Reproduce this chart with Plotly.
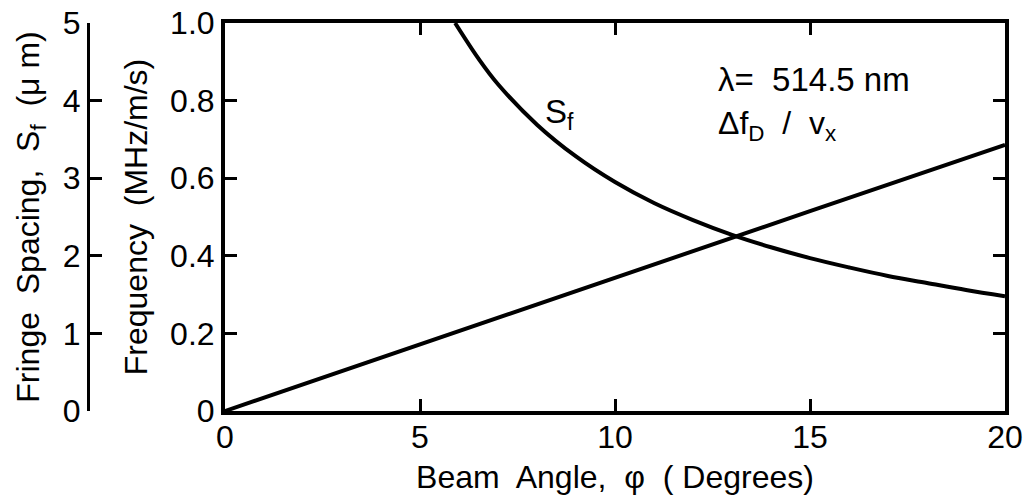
import plotly.graph_objects as go

# Beam angle (degrees) and fringe spacing S_f (micrometres)
phi_sf = [5.9, 6.5, 7, 8, 9, 10, 11, 12, 13, 14, 15, 16, 17, 18, 19, 20]
sf_um = [5.0, 4.54, 4.21, 3.69, 3.28, 2.95, 2.68, 2.46, 2.27, 2.11, 1.97, 1.85, 1.74, 1.65, 1.56, 1.48]

# Beam angle (degrees) and Doppler frequency per unit velocity (MHz per m/s)
phi_f = [0, 5, 10, 15, 20]
freq = [0, 0.172, 0.345, 0.515, 0.686]

x_ticks = [0, 5, 10, 15, 20]
freq_ticks = [0, 0.2, 0.4, 0.6, 0.8, 1.0]
freq_labels = ["0", "0.2", "0.4", "0.6", "0.8", "1.0"]
sf_ticks = [0, 1, 2, 3, 4, 5]
sf_labels = ["0", "1", "2", "3", "4", "5"]

FONT = "Liberation Sans"
W, H = 1027, 502
x0, x1 = 225, 1005
ytop, ybot = 23, 411

fig = go.Figure()
fig.add_trace(go.Scatter(x=phi_f, y=freq, mode="lines", yaxis="y",
                         line=dict(color="black", width=4), showlegend=False))
fig.add_trace(go.Scatter(x=phi_sf, y=sf_um, mode="lines", yaxis="y2",
                         line=dict(color="black", width=4, shape="spline"), showlegend=False))

axis_common = dict(showgrid=False, zeroline=False, showline=True, linecolor="black",
                   ticks="inside", tickcolor="black", tickwidth=3, ticklen=12,
                   automargin=False,
                   tickfont=dict(family=FONT, size=32, color="black"))

fig.update_layout(
    width=W, height=H,
    margin=dict(l=0, r=0, t=0, b=0),
    paper_bgcolor="white", plot_bgcolor="white",
    xaxis=dict(**axis_common, domain=[x0 / W, x1 / W], range=[0, 20],
               tickvals=x_ticks, mirror="ticks", linewidth=4, ticklabelstandoff=-5,
               title=dict(text="Beam  Angle,  φ  ( Degrees)",
                          font=dict(family=FONT, size=32, color="black"), standoff=12)),
    yaxis=dict(**axis_common, domain=[(H - ybot) / H, (H - ytop) / H], range=[0, 1.0],
               tickvals=freq_ticks, ticktext=freq_labels, mirror="ticks", linewidth=4,
               title=dict(text="Frequency  (MHz/m/s)",
                          font=dict(family=FONT, size=32, color="black"), standoff=14)),
    yaxis2=dict(**axis_common, overlaying="y", anchor="free", position=88 / W, side="left",
                range=[0, 5], tickvals=sf_ticks, ticktext=sf_labels, linewidth=3,
                title=dict(text="Fringe  Spacing,  S<sub>f</sub>  (μ m)",
                           font=dict(family=FONT, size=32, color="black"), standoff=12)),
    annotations=[
        dict(text="λ=  514.5 nm", x=12.6, y=0.855, xref="x", yref="y", xanchor="left",
             yanchor="middle", showarrow=False, font=dict(family=FONT, size=33, color="black")),
        dict(text="Δf<sub>D</sub>  /  v<sub>x</sub>", x=12.6, y=0.735, xref="x", yref="y",
             xanchor="left", yanchor="middle", showarrow=False,
             font=dict(family=FONT, size=32, color="black")),
        dict(text="S<sub>f</sub>", x=8.15, y=0.765, xref="x", yref="y", xanchor="left",
             yanchor="middle", showarrow=False, font=dict(family=FONT, size=33, color="black")),
    ],
)

fig.write_html("out.html")
